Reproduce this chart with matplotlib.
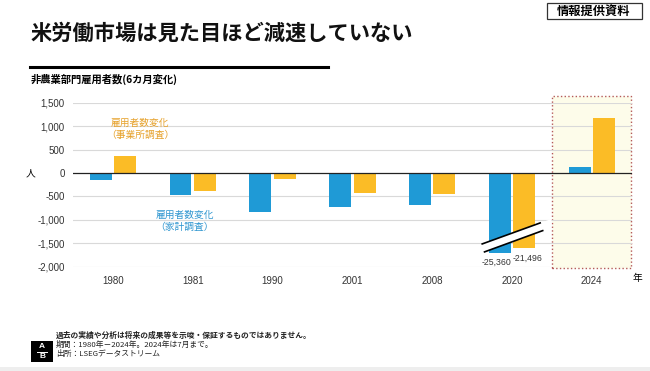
import numpy as np
import matplotlib
matplotlib.use("Agg")
import matplotlib.pyplot as plt
from matplotlib.patches import Rectangle, Polygon
from matplotlib.lines import Line2D

# データ（6カ月変化、千人）
years = ["1980", "1981", "1990", "2001", "2008", "2020", "2024"]
household = [-160, -477, -832, -733, -676, -25360, 120]       # 家計調査
establishment = [369, -392, -121, -420, -443, -21496, 1164]   # 事業所調査
# 2020年は軸を省略して表示（省略後の表示上の長さ）
cut_household = -1700
cut_establishment = -1600
yticks = [1500, 1000, 500, 0, -500, -1000, -1500, -2000]

JP = ["Noto Sans CJK JP", "DejaVu Sans"]
NUM = ["Liberation Sans", "Noto Sans CJK JP"]
BLUE = "#1f9ad6"
YELLOW = "#fbbc26"

fig = plt.figure(figsize=(6.5, 3.71), dpi=100)
W, H = 650, 371


def fx(px):
    return px / W


def fy(py):
    return 1 - py / H


ax = fig.add_axes([fx(73), fy(266.7), fx(631.7 - 73), fy(102.7) - fy(266.7)])

x = np.arange(len(years))
hh_shown = [v if v > -2000 else cut_household for v in household]
es_shown = [v if v > -2000 else cut_establishment for v in establishment]

# 2024年の強調枠
ax.add_patch(Rectangle((5.5, -2020), 0.99, 3660, facecolor="#fdfcea",
                       edgecolor="#b55a5a", linestyle=":", linewidth=1.0,
                       zorder=0.5, clip_on=False))

for t in yticks:
    if t == 0:
        continue
    ax.axhline(t, color="#d9d9d9", linewidth=0.8, zorder=1)

ax.bar(x - 0.153, hh_shown, width=0.275, color=BLUE, zorder=2)
ax.bar(x + 0.153, es_shown, width=0.275, color=YELLOW, zorder=2)
ax.axhline(0, color="#222222", linewidth=0.9, zorder=3)

# 省略記号（二重線）
xs = np.array([4.45, 5.495])
upper = -1514 + (xs - 4.627) * 617
lower = -1684 + (xs - 4.656) * 623
ax.add_patch(Polygon([[xs[0], upper[0]], [xs[1], upper[1]],
                      [xs[1], lower[1]], [xs[0], lower[0]]],
                     facecolor="white", edgecolor="none", zorder=4))
ax.plot([4.627, 5.353], [-1514, -1066], color="black", linewidth=1.2, zorder=5)
ax.plot([4.656, 5.385], [-1684, -1230], color="black", linewidth=1.2, zorder=5)

ax.text(4.80, -1898, f"{household[5]:,}", fontsize=6.3, color="#333333",
        ha="center", va="center", family=NUM, zorder=6)
ax.text(5.19, -1812, f"{establishment[5]:,}", fontsize=6.3, color="#333333",
        ha="center", va="center", family=NUM, zorder=6)

ax.text(0.34, 945, "雇用者数変化\n（事業所調査）", fontsize=7, color="#e6a12a",
        ha="center", va="center", family=JP, linespacing=1.25)
ax.text(0.90, -1028, "雇用者数変化\n（家計調査）", fontsize=7, color="#2f96d0",
        ha="center", va="center", family=JP, linespacing=1.25)

ax.set_xlim(-0.5, 6.5)
ax.set_ylim(-2000, 1500)
ax.set_yticks(yticks)
ax.set_yticklabels([f"{t:,}" for t in yticks], family=NUM, fontsize=7, color="#333333")
ax.set_xticks(x)
ax.set_xticklabels(years, family=NUM, fontsize=7, color="#333333")
ax.tick_params(length=0, pad=6)
ax.tick_params(axis="x", pad=7)
for s in ax.spines.values():
    s.set_visible(False)

fig.text(fx(30), fy(173), "人", family=JP, fontsize=7, ha="center", va="center")
fig.text(fx(637), fy(278), "年", family=JP, fontsize=7, ha="center", va="center")

# タイトル部分
fig.text(fx(31), fy(33), "米労働市場は見た目ほど減速していない", family=JP,
         fontsize=15.3, fontweight="bold", ha="left", va="center", color="#111111")
fig.add_artist(Line2D([fx(30), fx(328)], [fy(66.7), fy(66.7)], color="black", linewidth=2.2))
fig.text(fx(31), fy(79), "非農業部門雇用者数(6カ月変化)", family=JP, fontsize=7.4,
         fontweight="bold", ha="left", va="center")

fig.add_artist(Rectangle((fx(547), fy(19)), fx(95), fy(3.3) - fy(19),
                         facecolor="white", edgecolor="#333333", linewidth=0.9))
fig.text(fx(594), fy(11.3), "情報提供資料", family=JP, fontsize=8.8,
         fontweight="bold", ha="center", va="center")

# フッター
fig.add_artist(Rectangle((fx(31), fy(361.7)), fx(22), fy(341) - fy(361.7),
                         facecolor="black", edgecolor="none"))
fig.text(fx(42), fy(346.5), "A", family=NUM, fontsize=6, fontweight="bold",
         color="white", ha="center", va="center")
fig.text(fx(42), fy(356.5), "B", family=NUM, fontsize=6, fontweight="bold",
         color="white", ha="center", va="center")
fig.add_artist(Line2D([fx(37), fx(47)], [fy(351.5), fy(351.5)], color="white", linewidth=0.7))

notes = ["過去の実績や分析は将来の成果等を示唆・保証するものではありません。",
         "期間：1980年－2024年。2024年は7月まで。",
         "出所：LSEGデータストリーム"]
for i, line in enumerate(notes):
    fig.text(fx(56), fy(335.7 + 9.3 * i), line, family=JP, fontsize=5.6,
             fontweight="bold" if i == 0 else "normal",
             ha="left", va="center", color="#222222")

fig.add_artist(Rectangle((0, 0), 1, fy(367), facecolor="#eeeeee", edgecolor="none"))

fig.savefig("out.png", dpi=100)
